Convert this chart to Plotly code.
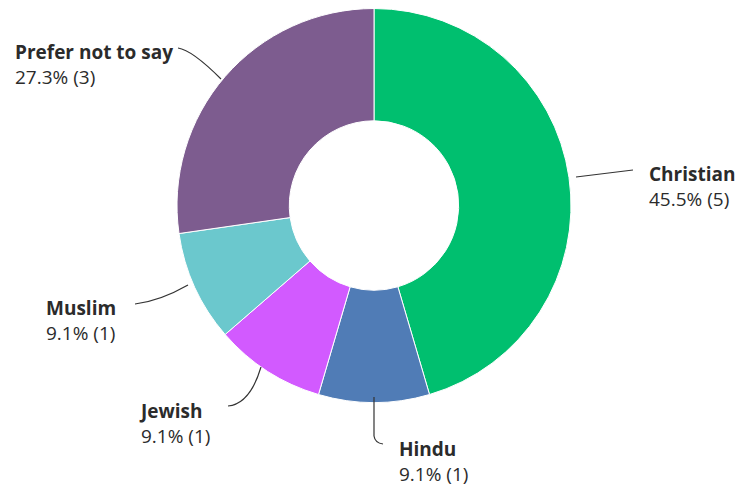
import plotly.graph_objects as go

categories = ["Christian", "Hindu", "Jewish", "Muslim", "Prefer not to say"]
counts = [5, 1, 1, 1, 3]
colors = ["#00BF6F", "#507CB6", "#D25AFF", "#6BC8CD", "#7D5C8F"]

# page body has an 8px margin; the plot is sized to the visible area
OFF = 8
W, H = 748 - OFF, 489 - OFF
total = sum(counts)


def px(x):
    return (x - OFF) / W


def py(y):
    return 1 - (y - OFF) / H


cx, cy, r = 374, 205.5, 197

fig = go.Figure(go.Pie(
    labels=categories,
    values=counts,
    sort=False,
    direction="clockwise",
    rotation=0,
    hole=0.43,
    marker=dict(colors=colors, line=dict(color="white", width=1)),
    textinfo="none",
    hoverinfo="label+percent+value",
    domain=dict(x=[px(cx - r), px(cx + r)], y=[py(cy + r), py(cy - r)]),
    showlegend=False,
))

# label positions (left edge x, vertical middle y) in page pixels
label_pos = {
    "Christian": (647, 186),
    "Hindu": (397, 461),
    "Jewish": (137, 423),
    "Muslim": (44, 320),
    "Prefer not to say": (13, 64),
}

font_family = "Open Sans, Liberation Sans, Arial, sans-serif"
for cat, n in zip(categories, counts):
    x, y = label_pos[cat]
    pct = n / total * 100
    fig.add_annotation(
        x=px(x), y=py(y), xref="paper", yref="paper",
        xanchor="left", yanchor="middle", align="left",
        text=f"<b>{cat}</b><br>{pct:.1f}% ({n})",
        showarrow=False,
        font=dict(family=font_family, size=19, color="#2b2b2b"),
    )


def path(cmds):
    out = []
    for c in cmds:
        if isinstance(c, str):
            out.append(c)
        else:
            out.append(f"{px(c[0]):.5f},{py(c[1]):.5f}")
    return " ".join(out)


leaders = [
    ["M", (178, 48), "Q", (192, 50), (221, 79)],
    ["M", (576, 177), "L", (633, 170)],
    ["M", (135, 304), "Q", (160, 301), (188, 285)],
    ["M", (228, 406), "Q", (250, 404), (261, 367)],
    ["M", (374, 397), "L", (374, 436), "Q", (375, 443), (383, 444)],
]
for cmds in leaders:
    fig.add_shape(type="path", xref="paper", yref="paper", path=path(cmds),
                  line=dict(color="#333333", width=1.2))

fig.update_layout(
    width=W, height=H,
    margin=dict(l=0, r=0, t=0, b=0),
    paper_bgcolor="white",
    plot_bgcolor="white",
)

fig.write_html("out.html")
